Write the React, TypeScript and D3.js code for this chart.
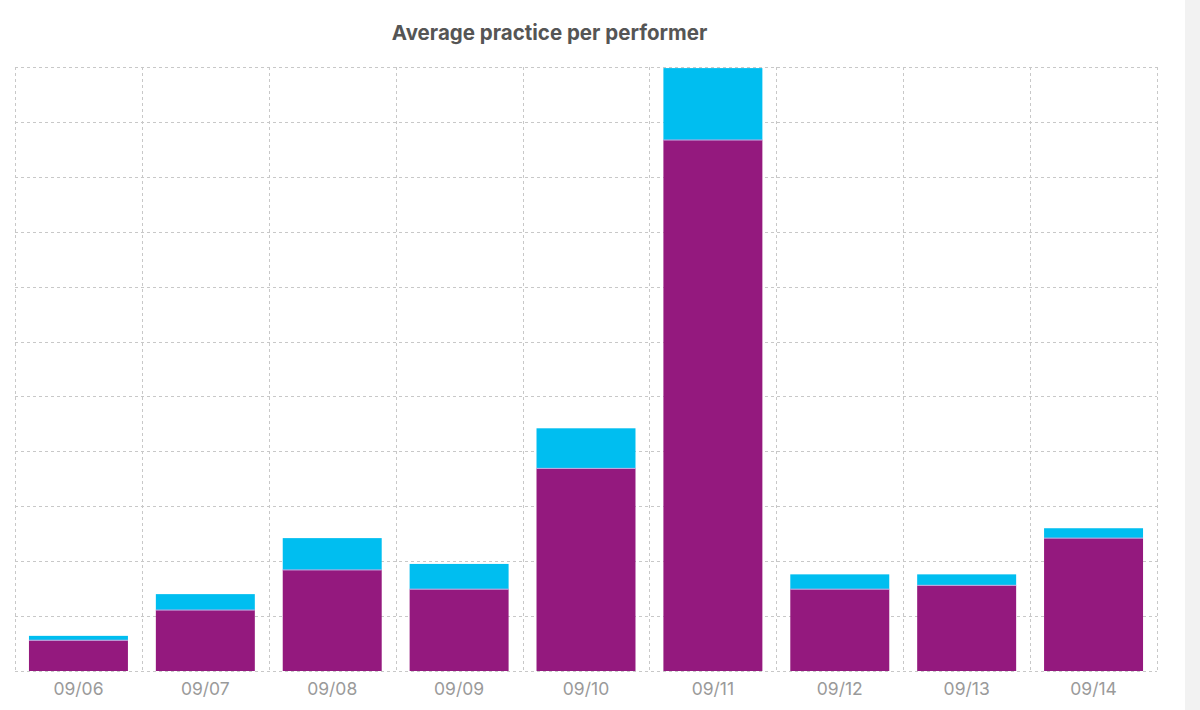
import * as d3 from "d3";

const WIDTH = 1200;
const HEIGHT = 710;

const dates = ["09/06", "09/07", "09/08", "09/09", "09/10", "09/11", "09/12", "09/13", "09/14"];
const baseValues = [0.56, 1.11, 1.84, 1.49, 3.69, 9.67, 1.49, 1.56, 2.42];
const extraValues = [0.08, 0.29, 0.58, 0.46, 0.73, 1.31, 0.27, 0.2, 0.18];
const yTicks = d3.range(0, 12);

const margin = { top: 67, right: 43, bottom: 39, left: 15 };
const purple = "#94197e";
const cyan = "#00bef0";

export default function App() {
  const innerRight = WIDTH - margin.right;
  const innerBottom = HEIGHT - margin.bottom;

  const x = d3
    .scaleBand<string>()
    .domain(dates)
    .range([margin.left, innerRight])
    .paddingInner(0.22)
    .paddingOuter(0.11);
  const y = d3.scaleLinear().domain([0, 11]).range([innerBottom, margin.top]);

  // band edges for the vertical grid
  const bandW = (innerRight - margin.left) / dates.length;
  const bounds = d3.range(dates.length + 1).map((i) => margin.left + i * bandW);

  return (
    <div style={{ position: "absolute", left: 0, top: 0 }}>
      <svg width={WIDTH} height={HEIGHT} style={{ display: "block", fontFamily: "Inter, 'Noto Sans', sans-serif" }}>
        <rect x={0} y={0} width={WIDTH} height={HEIGHT} fill="#fff" />
        <rect x={1185} y={0} width={15} height={HEIGHT} fill="#f2f2f2" />
        <text x={549.5} y={40} textAnchor="middle" fontSize={20.5} fontWeight={700} fill="#555">
          Average practice per performer
        </text>
        <g stroke="#c8c8c8" strokeWidth={1} strokeDasharray="3,3">
          {yTicks.map((t) => (
            <line key={`h-${t}`} x1={margin.left} x2={innerRight} y1={Math.round(y(t)) + 0.5} y2={Math.round(y(t)) + 0.5} />
          ))}
          {bounds.map((b, i) => (
            <line key={`v-${i}`} x1={Math.round(b) + 0.5} x2={Math.round(b) + 0.5} y1={margin.top} y2={innerBottom} />
          ))}
        </g>
        {dates.map((d, i) => {
          const x0 = x(d) ?? 0;
          const w = x.bandwidth();
          const b = baseValues[i];
          const e = extraValues[i];
          return (
            <g key={d}>
              <rect x={x0} y={y(b)} width={w} height={y(0) - y(b)} fill={purple} />
              <rect x={x0} y={y(b + e)} width={w} height={y(b) - y(b + e)} fill={cyan} />
              <line x1={x0} x2={x0 + w} y1={y(b)} y2={y(b)} stroke="#c9a9e0" strokeWidth={1} />
            </g>
          );
        })}
        {dates.map((d) => (
          <text
            key={`lbl-${d}`}
            x={(x(d) ?? 0) + x.bandwidth() / 2}
            y={innerBottom + 24}
            textAnchor="middle"
            fontSize={17.5}
            fill="#9a9a9a"
          >
            {d}
          </text>
        ))}
      </svg>
    </div>
  );
}
